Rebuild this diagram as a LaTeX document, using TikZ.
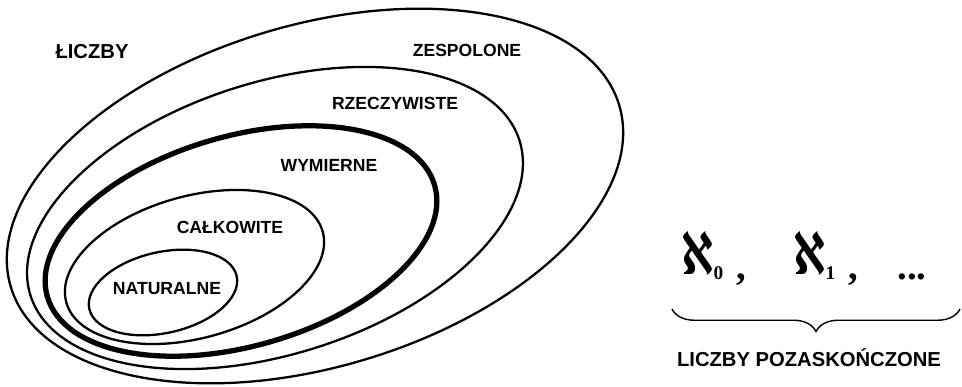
\documentclass[tikz,border=0pt]{standalone}
\usepackage{fontspec}
\setmainfont{Liberation Sans}
\newfontfamily\alephfont{DejaVu Sans}
\newfontfamily\serifbold{Liberation Serif}
\usetikzlibrary{decorations.pathreplacing,positioning}

\newcommand{\alephsym}[1]{\raisebox{3pt}{\scalebox{1.05}[1.5]{\alephfont ℵ}}\raisebox{0.5pt}{\fontsize{11}{11}\selectfont\serifbold\bfseries #1}}

\begin{document}
\begin{tikzpicture}[
  setline/.style={line width=1.3pt},
  setlabel/.style={font=\fontsize{10}{12}\selectfont\bfseries},
  biglabel/.style={font=\fontsize{11.5}{14}\selectfont\bfseries},
  alephtxt/.style={font=\fontsize{22}{26}\selectfont\serifbold\bfseries, anchor=base west, inner sep=0pt}]
  \useasboundingbox (0,0) rectangle (19.24,7.74);

  %--- nested number sets ---
  \coordinate (czes) at (6.30,3.82);
  \coordinate (crze) at (5.50,3.38);
  \coordinate (cwym) at (4.82,2.92);
  \coordinate (ccal) at (3.89,2.40);
  \coordinate (cnat) at (3.26,1.89);

  \draw[setline, rotate around={16.6:(czes)}] (czes) ellipse [x radius=6.35cm, y radius=3.42cm];
  \draw[setline, rotate around={17.6:(crze)}] (crze) ellipse [x radius=5.13cm, y radius=2.72cm];
  \draw[line width=3pt, rotate around={16.0:(cwym)}] (cwym) ellipse [x radius=4.03cm, y radius=2.10cm];
  \draw[setline, rotate around={15.4:(ccal)}] (ccal) ellipse [x radius=2.66cm, y radius=1.42cm];
  \draw[setline, rotate around={12.6:(cnat)}] (cnat) ellipse [x radius=1.51cm, y radius=0.81cm];

  \node[biglabel] (liczby) at (1.84,6.70) {ŁICZBY};
  \node[setlabel] (zesp) at (9.34,6.74) {ZESPOLONE};
  \node[setlabel] (rzecz) at (7.90,5.68) {RZECZYWISTE};
  \node[setlabel] (wymier) at (6.58,4.44) {WYMIERNE};
  \node[setlabel] (calk) at (4.60,3.20) {CAŁKOWITE};
  \node[setlabel] (natur) at (3.34,1.96) {NATURALNE};

  %--- transfinite numbers ---
  \node[alephtxt] (alefzero) at (13.62,2.14) {\alephsym{0}\,\,,};
  \node[alephtxt] (alefone) at (15.86,2.14) {\alephsym{1}\,\,,};
  \node[alephtxt] (dalej) at (17.94,2.14) {...};

  \coordinate (klamraL) at (13.44,1.56);
  \coordinate (klamraP) at (19.20,1.56);
  \draw[line width=0.8pt, decorate, decoration={brace, mirror, amplitude=0.45cm}] (klamraL) -- (klamraP);

  \node[biglabel] (pozask) at (16.18,0.58) {LICZBY POZASKOŃCZONE};
\end{tikzpicture}
\end{document}
